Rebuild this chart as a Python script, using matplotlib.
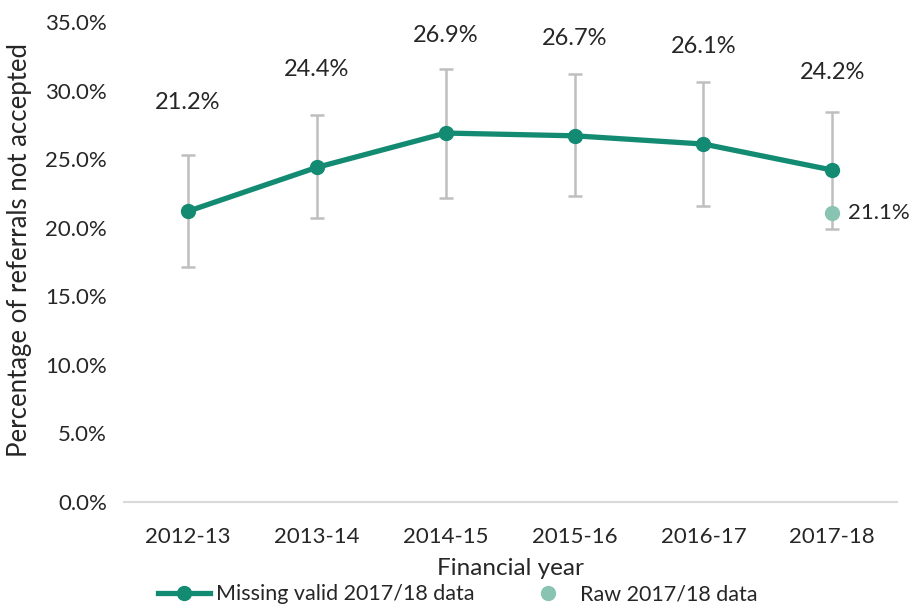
import matplotlib
matplotlib.use("Agg")
import matplotlib.pyplot as plt
from matplotlib.lines import Line2D
from matplotlib.ticker import FuncFormatter

# data
years = ["2012-13", "2013-14", "2014-15", "2015-16", "2016-17", "2017-18"]
pct_not_accepted = [21.2, 24.4, 26.9, 26.7, 26.1, 24.2]
ci_low = [17.1, 20.7, 22.2, 22.3, 21.6, 19.9]
ci_high = [25.3, 28.2, 31.6, 31.2, 30.6, 28.4]
raw_year = "2017-18"
raw_value = 21.1

main_color = "#138b73"
raw_color = "#88c4b1"
err_color = "#bfbfbf"
text_color = "#262626"

plt.rcParams["font.family"] = ["Lato", "DejaVu Sans"]
plt.rcParams["font.size"] = 16

fig = plt.figure(figsize=(9.16, 6.10), dpi=100)
ax = fig.add_axes([0.135, 0.177, 0.844, 0.787])

x = list(range(len(years)))
yerr = [[v - lo for v, lo in zip(pct_not_accepted, ci_low)],
        [hi - v for v, hi in zip(pct_not_accepted, ci_high)]]

ax.errorbar(x, pct_not_accepted, yerr=yerr, fmt="none", ecolor=err_color,
            elinewidth=1.8, capsize=5, capthick=1.8, zorder=2)
ax.plot(x, pct_not_accepted, color=main_color, linewidth=3.8, marker="o",
        markersize=10, zorder=3)
raw_x = years.index(raw_year)
ax.plot([raw_x], [raw_value], "o", color=raw_color, markersize=10, zorder=4)

# value labels
for i, v in enumerate(pct_not_accepted):
    dy = 7.9 if i == 0 else 7.1
    ax.text(i, v + dy, f"{v:.1f}%", ha="center", va="center",
            color=text_color, fontsize=17)
ax.annotate(f"{raw_value:.1f}%", (raw_x, raw_value), xytext=(11, 0),
            textcoords="offset points", ha="left", va="center",
            color=text_color, fontsize=16)

ax.set_xlim(-0.5, len(years) - 0.5)
ax.set_ylim(0, 35)
ax.set_xticks(x)
ax.set_xticklabels(years)
ax.set_yticks([0, 5, 10, 15, 20, 25, 30, 35])
ax.yaxis.set_major_formatter(FuncFormatter(lambda v, p: f"{v:.1f}%"))
ax.tick_params(length=0, colors=text_color, labelsize=16)
ax.tick_params(axis="x", pad=18)
ax.tick_params(axis="y", pad=12)

for side in ["top", "right", "left"]:
    ax.spines[side].set_visible(False)
ax.spines["bottom"].set_color("#d9d9d9")
ax.spines["bottom"].set_linewidth(1.5)

ax.set_xlabel("Financial year", fontsize=17.5, color=text_color, labelpad=8)
ax.set_ylabel("Percentage of referrals not accepted", fontsize=18.5,
              color=text_color)
ax.yaxis.set_label_coords(-0.118, 0.525)

handles = [
    Line2D([], [], color=main_color, linewidth=3.8, marker="o", markersize=10),
    Line2D([], [], color=raw_color, linestyle="none", marker="o", markersize=10),
]
fig.legend(handles, ["Missing valid 2017/18 data", "Raw 2017/18 data"],
           loc="center", bbox_to_anchor=(0.5, 0.026), ncol=2, frameon=False,
           fontsize=15.5, handlelength=2.4, columnspacing=2.2, handletextpad=0.3,
           labelcolor=text_color)

fig.savefig("out.png", dpi=100)
